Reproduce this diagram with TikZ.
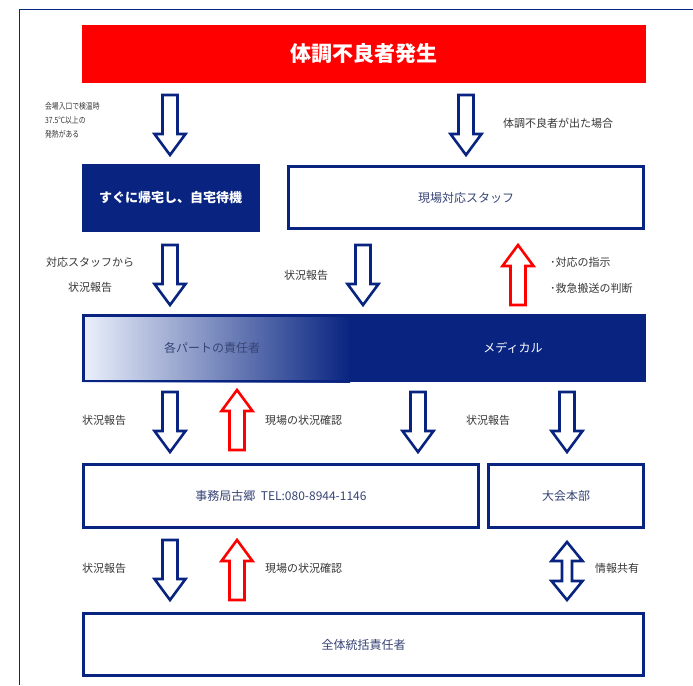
\documentclass[tikz,border=0pt]{standalone}
\usepackage{fontspec}
\setmainfont{Noto Sans CJK JP}
\definecolor{navy}{RGB}{8,36,128}
\definecolor{redc}{RGB}{255,0,0}
\definecolor{lbl}{RGB}{55,55,55}
\definecolor{boxtxt}{RGB}{55,68,118}
\definecolor{lightb}{RGB}{236,241,252}
\newcommand{\bldown}[4]{\draw[line width=2.6pt,draw=#1,fill=white,line join=miter]
  (#2-7.5,#3) -- (#2+7.5,#3) -- (#2+7.5,#4-21) -- (#2+15.5,#4-21) -- (#2,#4) -- (#2-15.5,#4-21) -- (#2-7.5,#4-21) -- cycle;}
\newcommand{\blup}[4]{\draw[line width=2.6pt,draw=#1,fill=white,line join=miter]
  (#2-7.5,#4) -- (#2+7.5,#4) -- (#2+7.5,#3+21) -- (#2+15.5,#3+21) -- (#2,#3) -- (#2-15.5,#3+21) -- (#2-7.5,#3+21) -- cycle;}
\newcommand{\blboth}[4]{\draw[line width=2.6pt,draw=#1,fill=white,line join=miter]
  (#2,#3) -- (#2+15.5,#3+19) -- (#2+5,#3+19) -- (#2+5,#4-19) -- (#2+15.5,#4-19) -- (#2,#4) -- (#2-15.5,#4-19) -- (#2-5,#4-19) -- (#2-5,#3+19) -- (#2-15.5,#3+19) -- cycle;}
\begin{document}
\begin{tikzpicture}[x=1pt,y=-1pt,
  navybox/.style={fill=navy,draw=navy,text=white,font=\fontsize{13}{15}\selectfont\bfseries,inner sep=0pt},
  whitebox/.style={fill=white,draw=navy,line width=3pt,text=boxtxt,font=\fontsize{12}{14}\selectfont,inner sep=0pt},
  lab/.style={text=lbl,font=\fontsize{11}{13}\selectfont,inner sep=0pt}]
\useasboundingbox (0,0) rectangle (693,685);
\fill[white] (0,0) rectangle (693,685);
\draw[navy,line width=1.3pt] (19.5,685) -- (19.5,9.5) -- (693,9.5);
% title
\node[fill=redc,minimum width=564pt,minimum height=58pt,text=white,font=\fontsize{21}{24}\selectfont\bfseries,inner sep=0pt] (title) at (364,54) {体調不良者発生};
% row 1
\bldown{navy}{170}{95}{155}
\node[lab,align=left,anchor=north west,xscale=0.8,font=\fontsize{8.5}{14}\selectfont] (l1) at (45,102) {会場入口で検温時\\37.5℃以上の\\発熱がある};
\bldown{navy}{466}{95}{155}
\node[lab,anchor=west] (l2) at (503,123) {体調不良者が出た場合};
\node[navybox,minimum width=177pt,minimum height=67pt] (home) at (170.5,197.5) {すぐに帰宅し、自宅待機};
\node[whitebox,minimum width=355pt,minimum height=62pt] (staff) at (466,197.5) {現場対応スタッフ};
% row 2
\bldown{navy}{170}{245}{305}
\node[lab] (l3) at (90,262) {対応スタッフから};
\node[lab] (l4) at (90,287) {状況報告};
\bldown{navy}{363}{245}{305}
\node[lab] (l5) at (306,275) {状況報告};
\blup{redc}{518}{245}{305}
\node[lab,anchor=west] (l6) at (550,262) {･対応の指示};
\node[lab,anchor=west] (l7) at (550,288) {･救急搬送の判断};
% gradient bar
\shade[left color=lightb,right color=navy] (82,314) rectangle (350,382);
\fill[navy] (349,314) rectangle (646,382);
\node[draw=navy,line width=2.5pt,minimum width=561pt,minimum height=65.5pt,inner sep=0pt] (bar) at (364,348) {};
\node[text=boxtxt,font=\fontsize{12}{14}\selectfont,inner sep=0pt] (parts) at (212,348) {各パートの責任者};
\node[text=white,font=\fontsize{12}{14}\selectfont,inner sep=0pt] (med) at (513,348) {メディカル};
% row 3
\bldown{navy}{170}{392}{452}
\node[lab] (l8) at (104,420) {状況報告};
\blup{redc}{237}{390}{450}
\node[lab,anchor=west] (l9) at (265,420) {現場の状況確認};
\bldown{navy}{418}{392}{452}
\node[lab] (l10) at (488,420) {状況報告};
\bldown{navy}{567}{392}{452}
% row 4
\node[whitebox,minimum width=395pt,minimum height=63pt] (office) at (281,496) {事務局古郷\ \ TEL:080-8944-1146};
\node[whitebox,minimum width=155pt,minimum height=63pt] (hq) at (566,496) {大会本部};
% row 5
\bldown{navy}{170}{540}{600}
\node[lab] (l11) at (104,568) {状況報告};
\blup{redc}{237}{540}{600}
\node[lab,anchor=west] (l12) at (265,568) {現場の状況確認};
\blboth{navy}{567}{542}{600}
\node[lab,anchor=west] (l13) at (595,568) {情報共有};
% bottom
\node[whitebox,minimum width=560pt,minimum height=62pt] (chief) at (363.5,644.5) {全体統括責任者};
\end{tikzpicture}
\end{document}
